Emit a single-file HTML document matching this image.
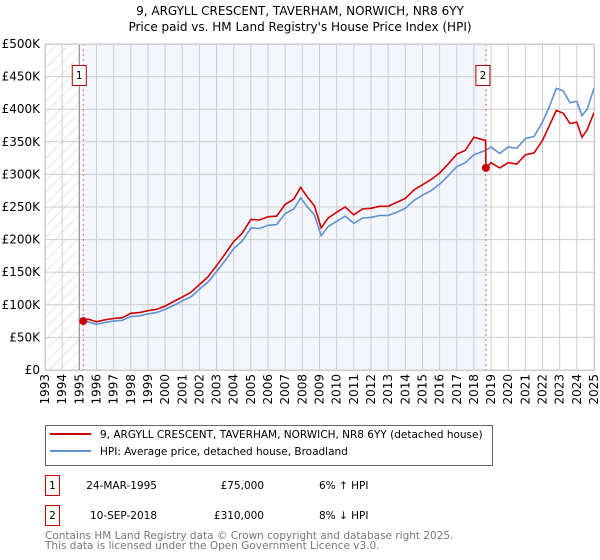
<!DOCTYPE html>
<html><head><meta charset="utf-8"><style>
body{margin:0;background:#fff;font-family:"DejaVu Sans","Liberation Sans",sans-serif;}
svg{display:block}
</style></head><body>
<svg id="chart" width="600" height="560" xmlns="http://www.w3.org/2000/svg" font-family="DejaVu Sans, Liberation Sans, sans-serif">
<defs><pattern id="hatch" width="8" height="8" patternUnits="userSpaceOnUse" patternTransform="rotate(45)"><line x1="0" y1="0" x2="0" y2="8" stroke="#ccc" stroke-width="1"/></pattern></defs>
<text x="300" y="15" text-anchor="middle" font-size="12">9, ARGYLL CRESCENT, TAVERHAM, NORWICH, NR8 6YY</text>
<text x="300" y="31" text-anchor="middle" font-size="12">Price paid vs. HM Land Registry's House Price Index (HPI)</text>
<g id="plot"></g>
<g>
<rect x="45.5" y="425.5" width="447" height="40" fill="#fff" stroke="#666"/>
<line x1="50" y1="434" x2="91" y2="434" stroke="#cc0000" stroke-width="2"/>
<text x="100" y="438" font-size="10.5">9, ARGYLL CRESCENT, TAVERHAM, NORWICH, NR8 6YY (detached house)</text>
<line x1="50" y1="451" x2="91" y2="451" stroke="#6090d0" stroke-width="2"/>
<text x="100" y="455" font-size="10.5">HPI: Average price, detached house, Broadland</text>
</g>
<g font-size="10.5">
<rect x="45.5" y="475.5" width="14" height="20" fill="#fff" stroke="#cc0000"/>
<text x="52.5" y="489" text-anchor="middle">1</text>
<text x="157" y="489" text-anchor="end">24-MAR-1995</text>
<text x="264" y="489" text-anchor="end">£75,000</text>
<text x="319" y="489">6% ↑ HPI</text>
<rect x="45.5" y="505.5" width="14" height="20" fill="#fff" stroke="#cc0000"/>
<text x="52.5" y="519" text-anchor="middle">2</text>
<text x="157" y="519" text-anchor="end">10-SEP-2018</text>
<text x="264" y="519" text-anchor="end">£310,000</text>
<text x="319" y="519">8% ↓ HPI</text>
</g>
<text x="45" y="539" font-size="10.5" fill="#777">Contains HM Land Registry data © Crown copyright and database right 2025.</text>
<text x="45" y="549" font-size="10.5" fill="#777">This data is licensed under the Open Government Licence v3.0.</text>
</svg>
<script>
const hpiYears=[1995.0,1995.5,1996.0,1996.5,1997.0,1997.5,1998.0,1998.5,1999.0,1999.5,2000.0,2000.5,2001.0,2001.5,2002.0,2002.5,2003.0,2003.5,2004.0,2004.5,2005.0,2005.5,2006.0,2006.5,2007.0,2007.5,2007.9,2008.3,2008.7,2009.1,2009.5,2010.0,2010.5,2011.0,2011.5,2012.0,2012.5,2013.0,2013.5,2014.0,2014.5,2015.0,2015.5,2016.0,2016.5,2017.0,2017.5,2018.0,2018.7,2019.0,2019.5,2020.0,2020.5,2021.0,2021.5,2022.0,2022.4,2022.8,2023.2,2023.6,2024.0,2024.3,2024.6,2025.0];
const hpiValues=[72,74,70,73,75,76,82,83,86,88,93,99,106,112,124,135,151,168,186,198,218,217,222,223,240,247,264,250,238,206,220,228,236,225,233,234,237,237,242,248,260,268,275,285,298,312,318,330,337,342,332,342,340,355,358,380,404,432,428,410,412,390,400,432];
const priceYears=[1995.23,1995.5,1996.0,1996.5,1997.0,1997.5,1998.0,1998.5,1999.0,1999.5,2000.0,2000.5,2001.0,2001.5,2002.0,2002.5,2003.0,2003.5,2004.0,2004.5,2005.0,2005.5,2006.0,2006.5,2007.0,2007.5,2007.9,2008.3,2008.7,2009.1,2009.5,2010.0,2010.5,2011.0,2011.5,2012.0,2012.5,2013.0,2013.5,2014.0,2014.5,2015.0,2015.5,2016.0,2016.5,2017.0,2017.5,2018.0,2018.68,2018.7,2019.0,2019.5,2020.0,2020.5,2021.0,2021.5,2022.0,2022.4,2022.8,2023.2,2023.6,2024.0,2024.3,2024.6,2025.0];
const priceValues=[75,78,74,77,79,80,87,88,91,93,98,105,112,119,131,143,160,178,197,210,231,230,235,236,254,262,280,265,252,218,233,242,250,238,247,248,251,251,257,263,276,284,292,302,316,331,337,357,352,310,318,310,318,316,330,333,352,375,398,394,378,380,357,368,395];
const sales=[{t:1995.23,v:75,label:"1"},{t:2018.7,v:310,label:"2"}];
const yTicks=[0,50,100,150,200,250,300,350,400,450,500];
const yTickLabels=["£0","£50K","£100K","£150K","£200K","£250K","£300K","£350K","£400K","£450K","£500K"];
const xTicks=[1993,1994,1995,1996,1997,1998,1999,2000,2001,2002,2003,2004,2005,2006,2007,2008,2009,2010,2011,2012,2013,2014,2015,2016,2017,2018,2019,2020,2021,2022,2023,2024,2025];

const X0=45,X1=594,Y0=370,Y1=44;
const x=t=>X0+(t-1993)/(2025-1993)*(X1-X0);
const y=v=>Y0-v/500*(Y0-Y1);
const NS="http://www.w3.org/2000/svg";
const g=document.getElementById('plot');
function mk(tag,attrs,parent){const e=document.createElementNS(NS,tag);for(const k in attrs)e.setAttribute(k,attrs[k]);(parent||g).appendChild(e);return e;}

let e=mk('rect',{x:x(sales[0].t),y:Y1,width:x(sales[1].t)-x(sales[0].t),height:Y0-Y1,fill:'#eef3fc',opacity:0.7});


e=mk('rect',{x:X0,y:Y1,width:x(1995)-X0,height:Y0-Y1,fill:'url(#hatch)'});


yTicks.forEach((v,i)=>{
  let l=mk('line',{x1:X0,x2:X1,y1:y(v),y2:y(v),stroke:'#cccccc','stroke-width':1});
  
  
  let t=mk('text',{x:X0-5,y:y(v)+4,'text-anchor':'end','font-size':12});
  
  
  t.textContent=yTickLabels[i];
});
xTicks.forEach(yr=>{
  let l=mk('line',{x1:x(yr),x2:x(yr),y1:Y1,y2:Y0,stroke:'#cccccc','stroke-width':1});
  
  
  let t=mk('text',{transform:`translate(${x(yr)+4},${Y0+4}) rotate(-90)`,'text-anchor':'end','font-size':12});
  
  
  t.textContent=yr;
});
e=mk('line',{x1:x(1995),x2:x(1995),y1:Y1,y2:Y0,stroke:'#888','stroke-width':1});


sales.forEach(s=>{
  let l=mk('line',{x1:x(s.t),x2:x(s.t),y1:Y1,y2:Y0,stroke:'#e06060','stroke-width':1,'stroke-dasharray':'2,3'});
  
  
});
function path(xs,vs){return xs.map((t,i)=>(i?'L':'M')+x(t).toFixed(1)+','+y(vs[i]).toFixed(1)).join(' ');}
e=mk('path',{d:path(hpiYears,hpiValues),fill:'none',stroke:'#6090d0','stroke-width':1.6});


e=mk('path',{d:path(priceYears,priceValues),fill:'none',stroke:'#cc0000','stroke-width':1.6});


sales.forEach(s=>{
  let c=mk('circle',{cx:x(s.t),cy:y(s.v),r:4,fill:'#cc0000'});
  
  
  let bx=x(s.t)-7-(s.label==='1'?4:3);
  let r=mk('rect',{x:bx,y:65.5,width:14,height:20,fill:'#fff',stroke:'#aa0000'});
  
  
  let t=mk('text',{x:bx+7,y:79,'text-anchor':'middle','font-size':10.5});
  
  
  t.textContent=s.label;
});
e=mk('rect',{x:X0+0.5,y:Y1+0.5,width:X1-X0,height:Y0-Y1,fill:'none',stroke:'#cccccc'});


</script>
</body></html>
